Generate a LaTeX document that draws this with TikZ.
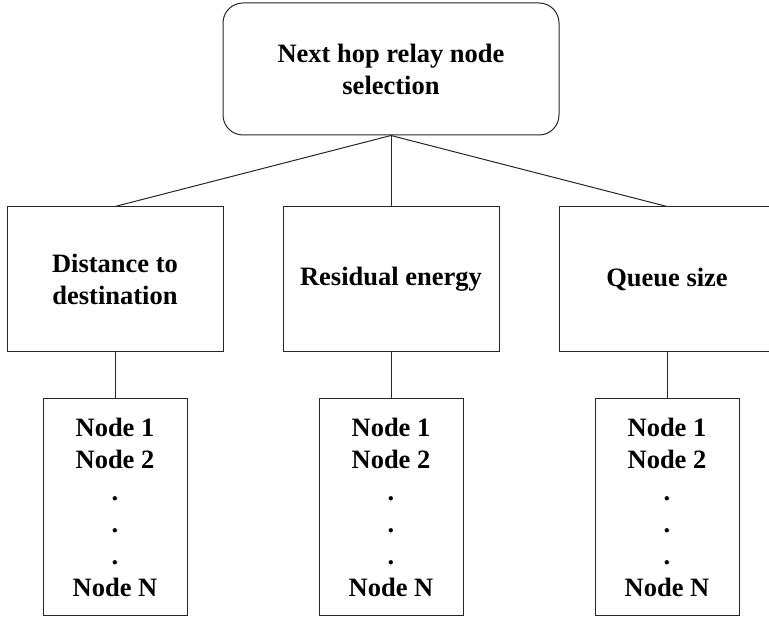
\documentclass[tikz,border=0pt]{standalone}
\usepackage{fontspec}
\setmainfont{Liberation Serif}
\begin{document}
\begin{tikzpicture}[x=1pt,y=-1pt,
  box/.style={draw=black!85, line width=1pt, rectangle, inner sep=0pt, align=center,
    font=\fontsize{26.5}{32}\selectfont\bfseries},
  topbox/.style={box, rounded corners=20pt, minimum width=336pt, minimum height=132pt},
  critbox/.style={box, minimum width=216pt, minimum height=145pt},
  listbox/.style={box, minimum width=144pt, minimum height=216pt},
  link/.style={draw=black!85, line width=1pt}]
\useasboundingbox (0,0) rectangle (769,617);
\clip (0,0) rectangle (769,617);
\node[topbox] (top) at (391,69) {Next hop relay node\\selection};
\node[critbox] (dist) at (115,279.5) {Distance to\\destination};
\node[critbox] (res) at (391,279.5) {Residual energy};
\node[critbox] (queue) at (667,279.5) {Queue size};
\node[listbox] (l1) at (115,507) {Node 1\\Node 2\\.\\.\\.\\Node N};
\node[listbox] (l2) at (391,507) {Node 1\\Node 2\\.\\.\\.\\Node N};
\node[listbox] (l3) at (667,507) {Node 1\\Node 2\\.\\.\\.\\Node N};
\draw[link] (top.south) -- (dist.north);
\draw[link] (top.south) -- (res.north);
\draw[link] (top.south) -- (queue.north);
\draw[link] (dist.south) -- (l1.north);
\draw[link] (res.south) -- (l2.north);
\draw[link] (queue.south) -- (l3.north);
\end{tikzpicture}
\end{document}
